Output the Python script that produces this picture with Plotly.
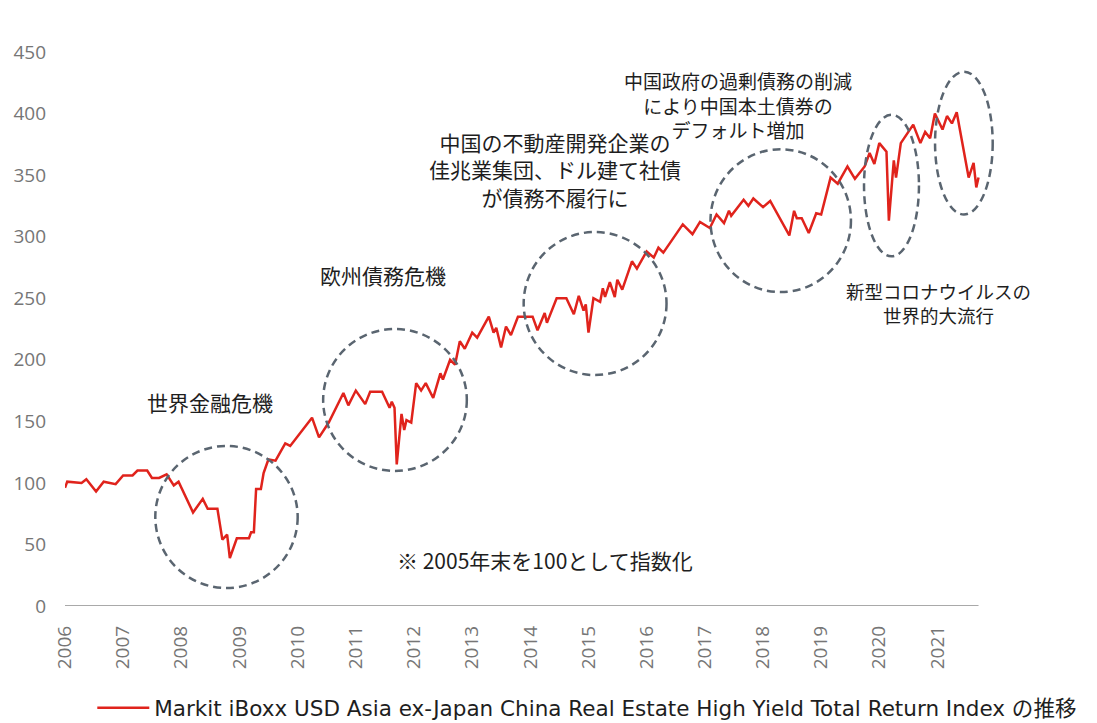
import plotly.graph_objects as go

# ---- data ----
dates = [
    "2006-01-01", "2006-01-15", "2006-04-15", "2006-05-15", "2006-07-15", "2006-09-01",
    "2006-11-15", "2007-01-01", "2007-03-01", "2007-04-01", "2007-06-01", "2007-07-01",
    "2007-08-15", "2007-10-01", "2007-11-15", "2007-12-15", "2008-03-15", "2008-05-15",
    "2008-06-15", "2008-08-15", "2008-09-15", "2008-10-15", "2008-11-01", "2008-12-15",
    "2009-03-01", "2009-03-15", "2009-04-01", "2009-04-15", "2009-05-15", "2009-06-01",
    "2009-07-01", "2009-08-15", "2009-10-15", "2009-11-15", "2010-04-01", "2010-05-15",
    "2010-07-15", "2010-10-15", "2010-11-15", "2011-01-01", "2011-03-01", "2011-04-01",
    "2011-06-15", "2011-08-01", "2011-08-15", "2011-09-01", "2011-09-15", "2011-10-15",
    "2011-11-01", "2011-11-15", "2011-12-15", "2012-01-15", "2012-02-15", "2012-03-15",
    "2012-05-01", "2012-06-15", "2012-07-01", "2012-08-15", "2012-09-15", "2012-10-15",
    "2012-11-15", "2013-01-01", "2013-02-01", "2013-04-15", "2013-05-15", "2013-06-01",
    "2013-07-01", "2013-08-01", "2013-09-01", "2013-10-15", "2014-01-15", "2014-02-15",
    "2014-04-01", "2014-04-15", "2014-06-15", "2014-08-15", "2014-10-01", "2014-11-01",
    "2014-12-01", "2014-12-15", "2015-01-01", "2015-02-01", "2015-03-15", "2015-04-01",
    "2015-04-15", "2015-05-01", "2015-05-15", "2015-06-15", "2015-07-01", "2015-08-01",
    "2015-08-15", "2015-10-01", "2015-11-01", "2016-01-01", "2016-02-15", "2016-03-15",
    "2016-04-15", "2016-08-15", "2016-10-15", "2016-12-01", "2017-02-01", "2017-03-15",
    "2017-05-01", "2017-06-01", "2017-06-15", "2017-09-01", "2017-10-01", "2017-11-01",
    "2018-01-01", "2018-02-15", "2018-06-15", "2018-07-15", "2018-08-01", "2018-09-01",
    "2018-10-15", "2018-12-01", "2019-01-01", "2019-03-01", "2019-04-15", "2019-06-15",
    "2019-08-01", "2019-10-01", "2019-11-01", "2019-12-01", "2020-01-01", "2020-02-15",
    "2020-03-01", "2020-04-01", "2020-04-15", "2020-05-15", "2020-08-01", "2020-09-15",
    "2020-10-15", "2020-11-15", "2020-12-15", "2021-02-01", "2021-03-01", "2021-04-01",
    "2021-05-01", "2021-07-15", "2021-08-15", "2021-09-01", "2021-09-15",
]
index_values = [
    96, 101, 100, 103, 93, 101,
    99, 106, 106, 110, 110, 104,
    104, 107, 98, 101, 76, 87,
    79, 79, 54, 58, 39, 55,
    55, 60, 60, 95, 95, 108,
    119, 118, 132, 130, 153, 137,
    149, 173, 163, 175, 164, 174,
    174, 161, 166, 161, 115, 156,
    143, 151, 149, 181, 175, 181,
    169, 189, 184, 200, 196, 215,
    209, 222, 218, 235, 222, 226,
    210, 227, 220, 235, 235, 224,
    238, 230, 250, 250, 237, 252,
    240, 245, 222, 250, 247, 258,
    251, 258, 263, 251, 265, 257,
    262, 280, 274, 288, 283, 291,
    287, 310, 302, 312, 307, 318,
    311, 321, 317, 330, 325, 331,
    324, 329, 301, 321, 315, 315,
    303, 319, 318, 348, 343, 357,
    347, 357, 368, 359, 376, 369,
    313, 362, 348, 376, 391, 376,
    385, 380, 400, 387, 398, 392,
    401, 348, 360, 340, 348,
]
year_ticks = [f"{y}-01-01" for y in range(2006, 2022)]
year_labels = [str(y) for y in range(2006, 2022)]
y_ticks = [0, 50, 100, 150, 200, 250, 300, 350, 400, 450]
series_name = "Markit iBoxx USD Asia ex-Japan China Real Estate High Yield Total Return Index の推移"

JP = "Noto Sans CJK JP"
TXT = "#1e1e1e"
TICK = "#767676"

fig = go.Figure()
fig.add_trace(go.Scatter(
    x=dates, y=index_values, mode="lines", name=series_name,
    line=dict(color="#e0231c", width=2.5),
))

# horizontal axis line (ends with the data, as in the reference)
shapes = [dict(type="line", xref="x", yref="y", x0=dates[0], x1=dates[-1], y0=0, y1=0,
               line=dict(color="#8c8c8c", width=1.5))]

# dashed highlight ellipses
ellipses = [
    ("2007-07-22", "2010-01-01", 14.6, 130),
    ("2010-06-10", "2012-11-28", 109.7, 225),
    ("2013-11-20", "2016-05-05", 187.6, 303.8),
    ("2017-02-05", "2019-07-07", 255, 371),
    ("2019-09-27", "2020-09-06", 284, 399),
    ("2020-12-16", "2021-12-13", 318, 434),
]
for x0, x1, y0, y1 in ellipses:
    shapes.append(dict(type="circle", xref="x", yref="y", x0=x0, x1=x1, y0=y0, y1=y1,
                       line=dict(color="#5a6570", width=2.5, dash="8px,5px"),
                       fillcolor="rgba(0,0,0,0)"))

notes = [
    ("2008-06-28", 165.7, "世界金融危機", 21),
    ("2011-06-20", 268.9, "欧州債務危機", 21),
    ("2014-06-05", 354.2, "中国の不動産開発企業の<br>佳兆業集団、ドル建て社債<br>が債務不履行に", 21),
    ("2017-07-28", 407, "中国政府の過剰債務の削減<br>により中国本土債券の<br>デフォルト増加", 19),
    ("2021-01-04", 246, "新型コロナウイルスの<br>世界的大流行", 18.5),
    ("2021-08-25", 465.5, "中国の不動産開発企業の<br>中国恒大集団、債務危機", 21),
    ("2014-04-01", 37.4, "※ 2005年末を100として指数化", 21),
]
annotations = [dict(x=x, y=y, xref="x", yref="y", text=t, showarrow=False,
                    xanchor="center", yanchor="middle", align="center",
                    font=dict(family=JP, size=s, color=TXT))
               for x, y, t, s in notes]

fig.update_layout(
    width=1097, height=723,
    margin=dict(l=65, r=57, t=52, b=117),
    paper_bgcolor="white", plot_bgcolor="white",
    shapes=shapes, annotations=annotations,
    showlegend=True,
    legend=dict(orientation="h", xref="paper", yref="container",
                x=0.028, y=0.021, xanchor="left", yanchor="middle",
                font=dict(family="DejaVu Sans, " + JP, size=21.5, color=TXT), itemwidth=52,
                bgcolor="rgba(0,0,0,0)"),
    xaxis=dict(type="date", range=["2006-01-01", "2022-10-06"],
               tickmode="array", tickvals=year_ticks, ticktext=year_labels,
               tickangle=-90, showgrid=False, zeroline=False, showline=False,
               ticks="", ticklabelstandoff=15, automargin=False,
               tickfont=dict(family="Open Sans", size=19, color=TICK)),
    yaxis=dict(range=[0, 450], tickmode="array", tickvals=y_ticks,
               showgrid=False, zeroline=False, showline=False, ticks="",
               ticklabelstandoff=18, automargin=False,
               tickfont=dict(family="Open Sans", size=19, color=TICK)),
)

fig.write_html("out.html")
